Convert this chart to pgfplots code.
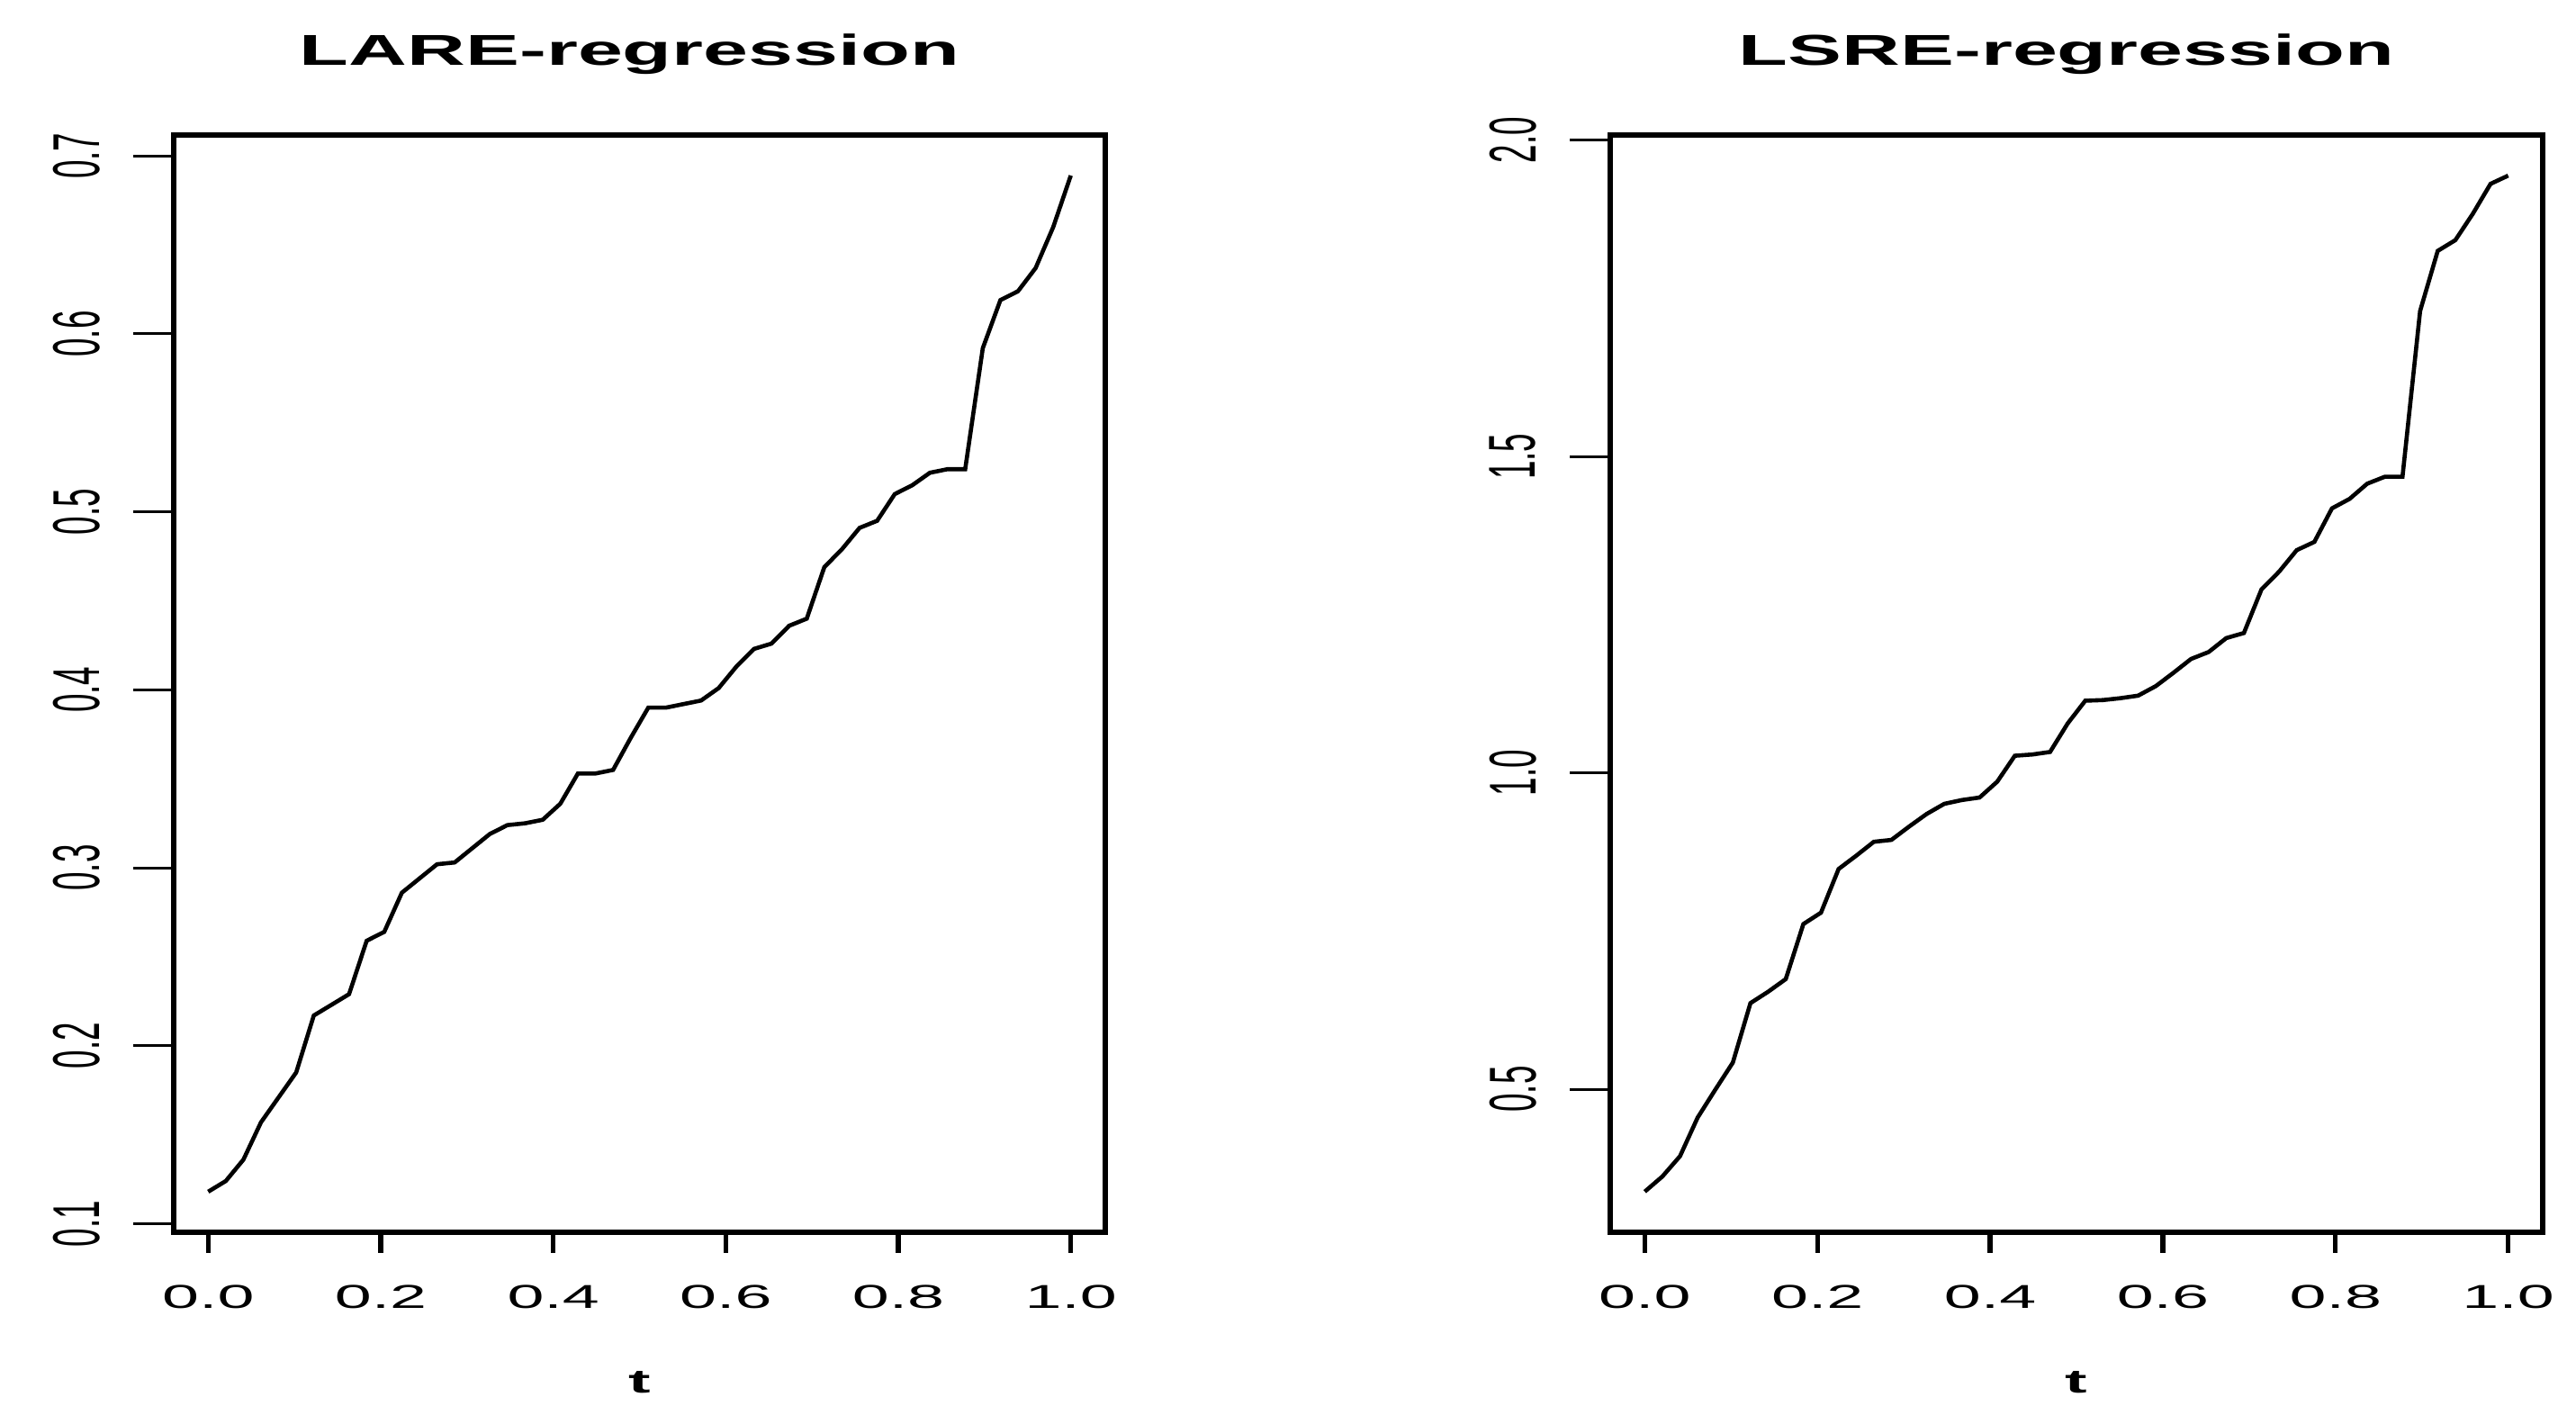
\documentclass[border=0pt]{standalone}
\usepackage{pgfplots}
\pgfplotsset{compat=1.18}
\usepackage{pgfplotstable}
\usepackage{graphicx}
\usepackage{fontspec}
\setmainfont{Liberation Sans}

% R output was stretched sideways, so text is widened the same way
\newcommand\xl[1]{\scalebox{2}[1]{#1}}
\newcommand\yl[1]{\scalebox{1}[2]{#1}}

\pgfplotstableread{
t v
0.0000 0.118
0.0204 0.124
0.0408 0.136
0.0612 0.157
0.0816 0.171
0.1020 0.185
0.1224 0.217
0.1429 0.223
0.1633 0.229
0.1837 0.259
0.2041 0.264
0.2245 0.286
0.2449 0.294
0.2653 0.302
0.2857 0.303
0.3061 0.311
0.3265 0.319
0.3469 0.324
0.3673 0.325
0.3878 0.327
0.4082 0.336
0.4286 0.353
0.4490 0.353
0.4694 0.355
0.4898 0.373
0.5102 0.390
0.5306 0.390
0.5510 0.392
0.5714 0.394
0.5918 0.401
0.6122 0.413
0.6327 0.423
0.6531 0.426
0.6735 0.436
0.6939 0.440
0.7143 0.469
0.7347 0.479
0.7551 0.491
0.7755 0.495
0.7959 0.510
0.8163 0.515
0.8367 0.522
0.8571 0.524
0.8776 0.524
0.8980 0.592
0.9184 0.619
0.9388 0.624
0.9592 0.637
0.9796 0.660
1.0000 0.689
}\lare

\pgfplotstableread{
t v
0.0000 0.338
0.0204 0.362
0.0408 0.394
0.0612 0.455
0.0816 0.499
0.1020 0.542
0.1224 0.636
0.1429 0.654
0.1633 0.674
0.1837 0.761
0.2041 0.779
0.2245 0.848
0.2449 0.869
0.2653 0.891
0.2857 0.894
0.3061 0.915
0.3265 0.935
0.3469 0.951
0.3673 0.957
0.3878 0.961
0.4082 0.986
0.4286 1.027
0.4490 1.029
0.4694 1.033
0.4898 1.078
0.5102 1.114
0.5306 1.115
0.5510 1.118
0.5714 1.122
0.5918 1.137
0.6122 1.158
0.6327 1.180
0.6531 1.191
0.6735 1.213
0.6939 1.221
0.7143 1.290
0.7347 1.318
0.7551 1.352
0.7755 1.365
0.7959 1.418
0.8163 1.433
0.8367 1.457
0.8571 1.468
0.8776 1.468
0.8980 1.730
0.9184 1.825
0.9388 1.842
0.9592 1.884
0.9796 1.931
1.0000 1.944
}\lsre

\pgfplotsset{
  rplot/.style={
    scale only axis,
    width=258.75pt, height=304.75pt,
    anchor=south west,
    axis line style={black},
    x axis line style={line width=0.75pt},
    y axis line style={line width=1.3pt},
    tick style={black},
    tick align=outside,
    xtick pos=bottom, ytick pos=left,
    xtick style={/pgfplots/major tick length=5.75pt, line width=1.3pt},
    ytick style={/pgfplots/major tick length=11.25pt, line width=0.75pt},
    xmin=-0.04, xmax=1.04,
    xtick={0,0.2,0.4,0.6,0.8,1},
    xticklabels={\xl{0.0},\xl{0.2},\xl{0.4},\xl{0.6},\xl{0.8},\xl{1.0}},
    ticklabel style={font=\fontsize{9.2}{11}\selectfont},
    xticklabel style={anchor=center, yshift=-13.75pt},
    yticklabel style={xshift=-22.75pt, rotate=90, anchor=center},
    title style={font=\fontsize{12}{14}\selectfont\bfseries,
      at={(axis description cs:0.5,1)}, anchor=base,
      xshift=-2.75pt, yshift=13.25pt},
    xlabel={\xl{t}},
    xlabel style={font=\fontsize{9.2}{11}\selectfont\bfseries,
      at={(axis description cs:0.5,0)}, anchor=center, yshift=-41.6pt},
  },
}

\begin{document}
\begin{tikzpicture}
\path[use as bounding box] (0,0) rectangle (715.5pt,395.5pt);

\begin{axis}[rplot, at={(48.25pt,53.25pt)},
  ymin=0.0952, ymax=0.7118,
  ytick={0.1,0.2,0.3,0.4,0.5,0.6,0.7},
  yticklabels={\yl{0.1},\yl{0.2},\yl{0.3},\yl{0.4},\yl{0.5},\yl{0.6},\yl{0.7}},
  title={\scalebox{1.87}[1]{LARE-regression}}]
\addplot[black, line width=1.15pt] table[x=t, y=v] {\lare};
\end{axis}

\begin{axis}[rplot, at={(447.25pt,53.25pt)}, width=259pt,
  ymin=0.2738, ymax=2.0082,
  ytick={0.5,1,1.5,2},
  yticklabels={\yl{0.5},\yl{1.0},\yl{1.5},\yl{2.0}},
  title={\scalebox{1.87}[1]{LSRE-regression}}]
\addplot[black, line width=1.15pt] table[x=t, y=v] {\lsre};
\end{axis}
\end{tikzpicture}
\end{document}
